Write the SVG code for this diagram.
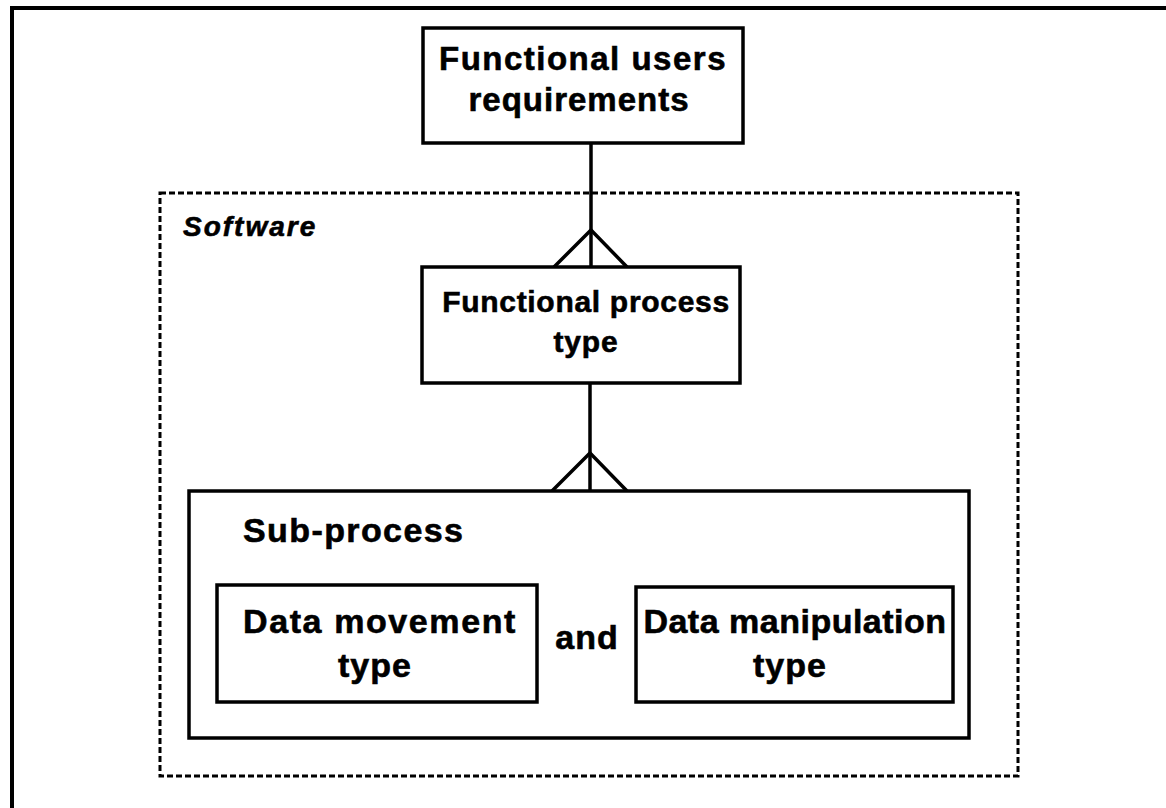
<svg xmlns="http://www.w3.org/2000/svg" width="1166" height="808" viewBox="0 0 1166 808">
  <style>
    .box { fill: #ffffff; stroke: #000000; stroke-width: 3.5; }
    .boundary { fill: none; stroke: #000000; stroke-width: 3; stroke-dasharray: 6 3; }
    .line { fill: none; stroke: #000000; stroke-width: 3.5; }
    .lbl { font-family: "Liberation Sans", Arial, Helvetica, sans-serif; font-weight: bold; fill: #000000; stroke: #000000; stroke-width: 0.6; }
  </style>
  <rect x="0" y="0" width="1166" height="808" fill="#ffffff"/>

  <!-- page frame (top and left edges) -->
  <path d="M 12 808 L 12 8 L 1166 8" fill="none" stroke="#000000" stroke-width="4"/>

  <!-- software boundary -->
  <g id="software">
    <rect class="boundary" x="160" y="193" width="858" height="583"/>
    <text class="lbl" x="183" y="236" font-size="28" font-style="italic" letter-spacing="2">Software</text>
  </g>

  <!-- connectors with crow's-foot ends -->
  <g id="connectors">
    <line class="line" x1="591" y1="143" x2="591" y2="267"/>
    <polyline class="line" points="554,267 591,230 627,267"/>
    <line class="line" x1="590" y1="383" x2="590" y2="491"/>
    <polyline class="line" points="552,491 590,453 627,491"/>
  </g>

  <g id="functional-users-requirements">
    <rect class="box" x="423" y="28" width="320" height="115"/>
    <text class="lbl" x="583" y="70" font-size="33" letter-spacing="1.5" text-anchor="middle">Functional users</text>
    <text class="lbl" x="579" y="111" font-size="33" letter-spacing="1" text-anchor="middle">requirements</text>
  </g>

  <g id="functional-process-type">
    <rect class="box" x="422" y="267" width="318" height="116"/>
    <text class="lbl" x="586" y="312" font-size="30" letter-spacing="0.7" text-anchor="middle">Functional process</text>
    <text class="lbl" x="586" y="352" font-size="30" letter-spacing="0.8" text-anchor="middle">type</text>
  </g>

  <g id="sub-process">
    <rect class="box" x="189" y="491" width="780" height="247"/>
    <text class="lbl" x="243" y="542" font-size="34" letter-spacing="1.4">Sub-process</text>
  </g>

  <g id="data-movement-type">
    <rect class="box" x="217" y="585" width="320" height="117"/>
    <text class="lbl" x="380" y="633" font-size="34" letter-spacing="1.6" text-anchor="middle">Data movement</text>
    <text class="lbl" x="375" y="677" font-size="34" letter-spacing="1" text-anchor="middle">type</text>
  </g>

  <text id="and" class="lbl" x="587" y="649" font-size="34" letter-spacing="1" text-anchor="middle">and</text>

  <g id="data-manipulation-type">
    <rect class="box" x="636" y="587" width="317" height="115"/>
    <text class="lbl" x="795" y="633" font-size="34" letter-spacing="0.5" text-anchor="middle">Data manipulation</text>
    <text class="lbl" x="790" y="677" font-size="34" letter-spacing="1" text-anchor="middle">type</text>
  </g>
</svg>
